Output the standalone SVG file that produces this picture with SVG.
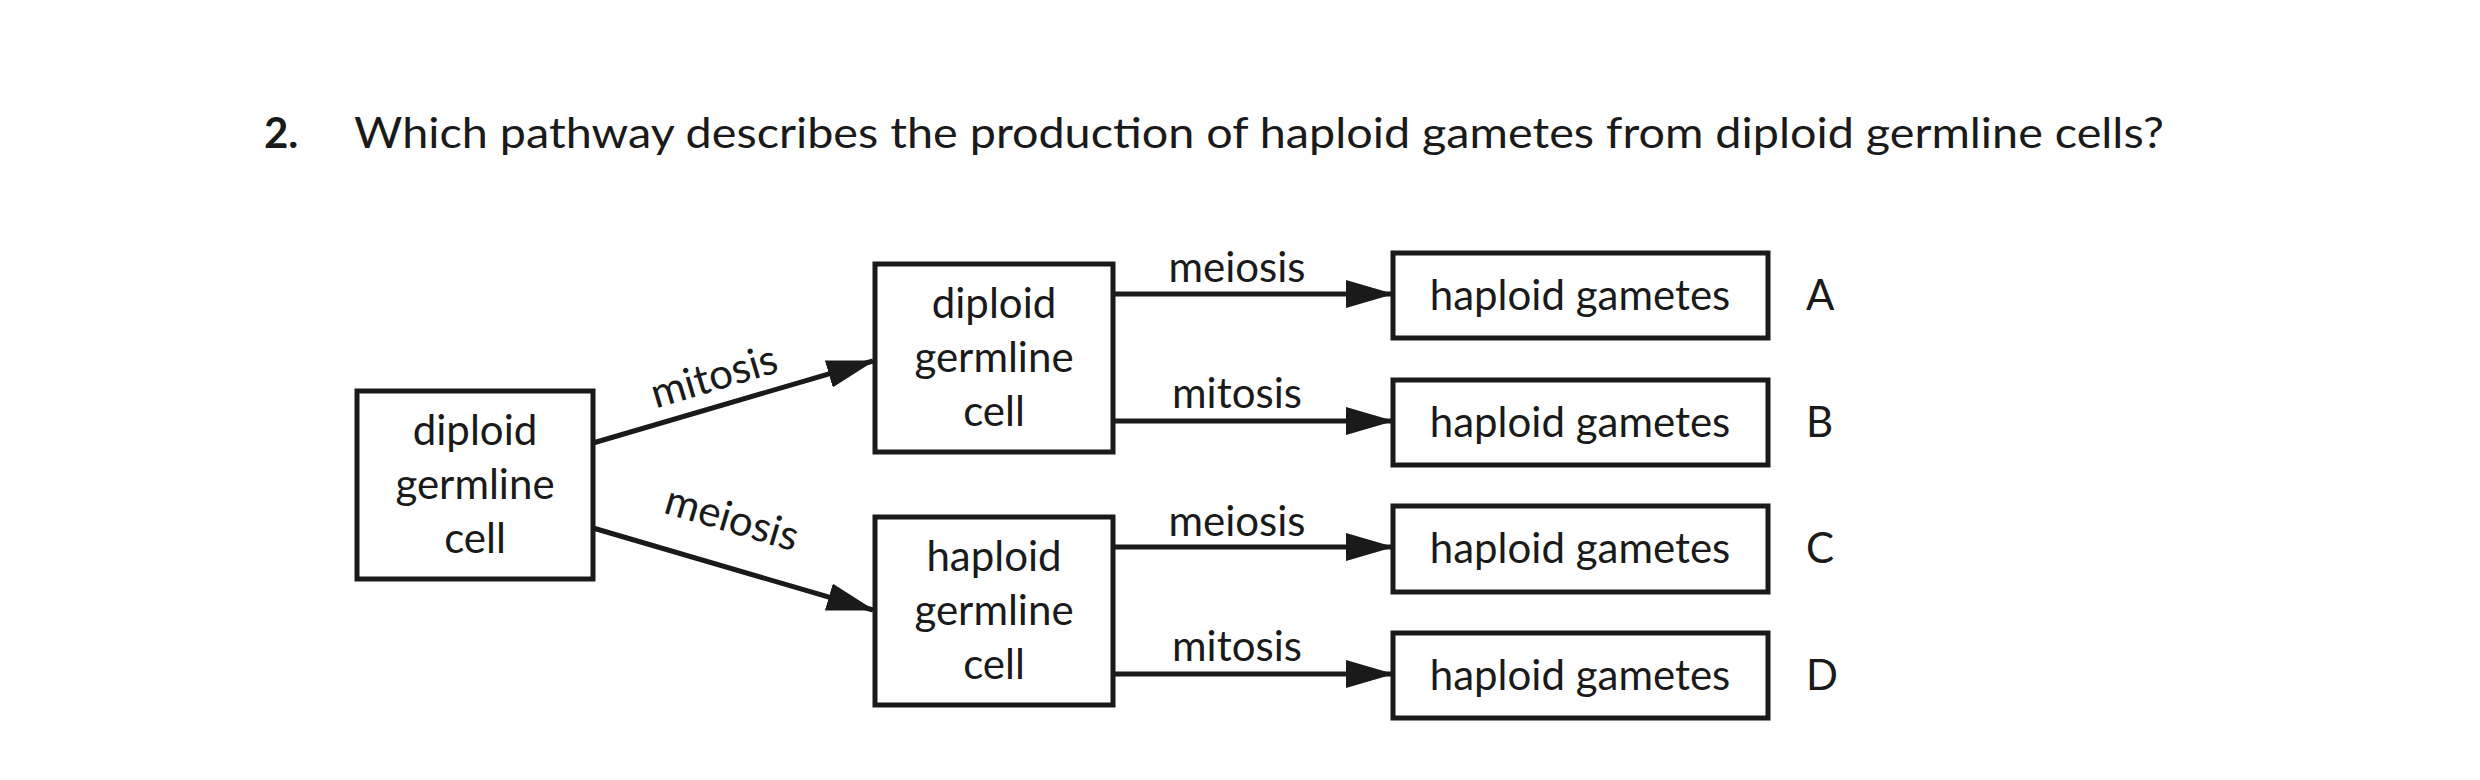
<svg xmlns="http://www.w3.org/2000/svg" width="2480" height="780" viewBox="0 0 2480 780">
<style>
text{font-family:Lato,"Open Sans",sans-serif;font-size:42px;fill:#1a1a1a}
.c{text-anchor:middle}
rect{fill:#fff;stroke:#1a1a1a;stroke-width:5}
line{stroke:#1a1a1a;stroke-width:5}
</style>
<defs><marker id="ah" markerUnits="userSpaceOnUse" markerWidth="48" markerHeight="28" refX="46" refY="14" orient="auto"><path d="M0,0 L48,14 L0,28 Z" fill="#1a1a1a"/></marker></defs>
<rect width="2480" height="780" style="stroke:none"/>
<text x="264" y="148" style="font-weight:bold">2.</text>
<text x="354" y="148" textLength="1810" lengthAdjust="spacingAndGlyphs">Which pathway describes the production of haploid gametes from diploid germline cells?</text>
<g id="n1"><rect x="357" y="391" width="236" height="188"/><text class="c" x="475" y="445">diploid</text><text class="c" x="475" y="499">germline</text><text class="c" x="475" y="553">cell</text></g>
<g id="n2"><rect x="875" y="264" width="238" height="188"/><text class="c" x="994" y="318">diploid</text><text class="c" x="994" y="372">germline</text><text class="c" x="994" y="426">cell</text></g>
<g id="n3"><rect x="875" y="517" width="238" height="188"/><text class="c" x="994" y="571">haploid</text><text class="c" x="994" y="625">germline</text><text class="c" x="994" y="679">cell</text></g>
<g id="nA"><rect x="1393" y="253" width="375" height="85"/><text class="c" x="1580" y="310">haploid gametes</text><text x="1806" y="310">A</text></g>
<g id="nB"><rect x="1393" y="380" width="375" height="85"/><text class="c" x="1580" y="437">haploid gametes</text><text x="1806" y="437">B</text></g>
<g id="nC"><rect x="1393" y="506" width="375" height="86"/><text class="c" x="1580" y="563">haploid gametes</text><text x="1806" y="563">C</text></g>
<g id="nD"><rect x="1393" y="633" width="375" height="85"/><text class="c" x="1580" y="690">haploid gametes</text><text x="1806" y="690">D</text></g>
<g id="edges">
<line x1="593" y1="443" x2="873" y2="361" marker-end="url(#ah)"/>
<line x1="593" y1="528" x2="873" y2="610" marker-end="url(#ah)"/>
<line x1="1113" y1="294" x2="1392" y2="294" marker-end="url(#ah)"/>
<line x1="1113" y1="421" x2="1392" y2="421" marker-end="url(#ah)"/>
<line x1="1113" y1="547" x2="1392" y2="547" marker-end="url(#ah)"/>
<line x1="1113" y1="674" x2="1392" y2="674" marker-end="url(#ah)"/>
<text class="c" transform="translate(718,390) rotate(-16.5)">mitosis</text>
<text class="c" transform="translate(728,532) rotate(16.5)">meiosis</text>
<text class="c" x="1237" y="282">meiosis</text>
<text class="c" x="1237" y="408">mitosis</text>
<text class="c" x="1237" y="536">meiosis</text>
<text class="c" x="1237" y="661">mitosis</text>
</g>
</svg>
